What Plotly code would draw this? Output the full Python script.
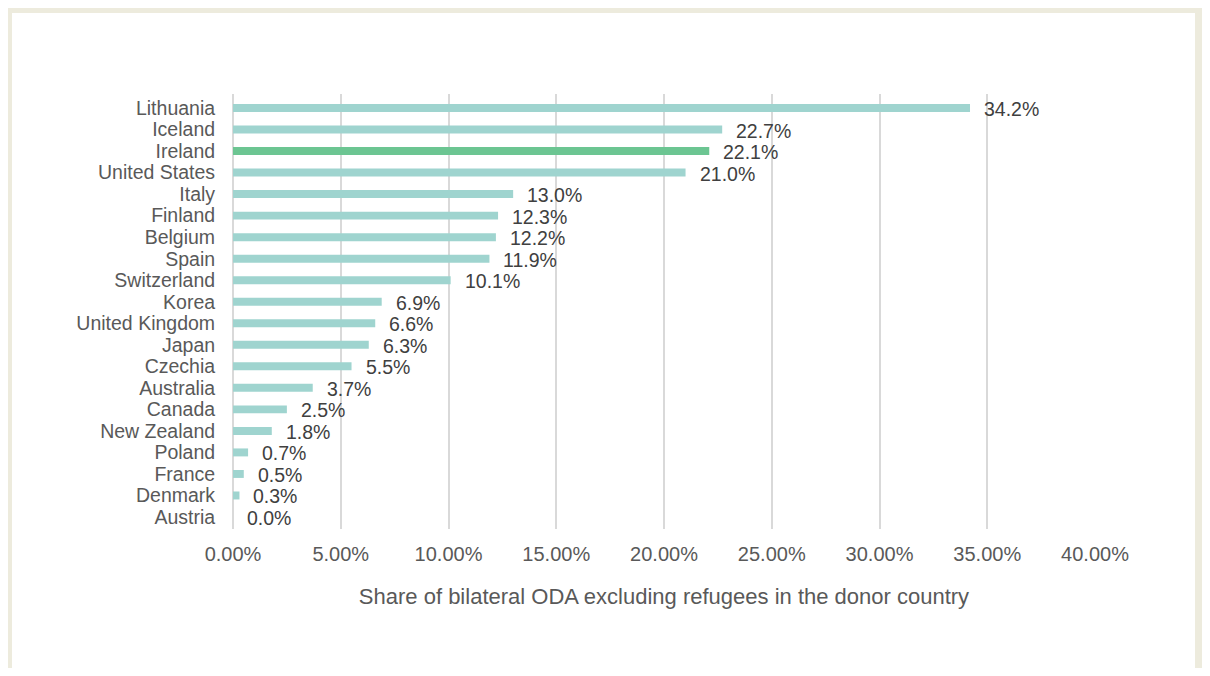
import plotly.graph_objects as go

countries = ["Lithuania", "Iceland", "Ireland", "United States", "Italy", "Finland",
             "Belgium", "Spain", "Switzerland", "Korea", "United Kingdom", "Japan",
             "Czechia", "Australia", "Canada", "New Zealand", "Poland", "France",
             "Denmark", "Austria"]
shares = [0.342, 0.227, 0.221, 0.210, 0.130, 0.123, 0.122, 0.119, 0.101, 0.069,
          0.066, 0.063, 0.055, 0.037, 0.025, 0.018, 0.007, 0.005, 0.003, 0.000]
highlight = "Ireland"
x_ticks = [0, 0.05, 0.10, 0.15, 0.20, 0.25, 0.30, 0.35, 0.40]
x_title = "Share of bilateral ODA excluding refugees in the donor country"

# figure sits at (8, 8) in the page because of the default body margin
W, H = 1202, 660
ML, MR, MT, MB = 225, 115, 86, 139
PW, PH = W - ML - MR, H - MT - MB

FONT = "Liberation Sans, Arial, sans-serif"
base_col = "#9FD4CF"
hi_col = "#6CC592"
colors = [hi_col if c == highlight else base_col for c in countries]

fig = go.Figure()
fig.add_trace(go.Bar(
    x=shares, y=countries, orientation="h",
    marker=dict(color=colors, line=dict(width=0)),
    width=0.37, hoverinfo="skip",
))

for c, v in zip(countries, shares):
    fig.add_annotation(x=v, y=c, text=f"{v*100:.1f}%", showarrow=False,
                       xanchor="left", yanchor="middle", xshift=12, yshift=-1,
                       font=dict(family=FONT, size=19.5, color="#404040"))

def px2x(px):
    return (px - ML) / PW

def py2y(py):
    return (H - MB - py) / PH

# beige frame
fig.add_shape(type="rect", xref="paper", yref="paper",
              x0=px2x(0), x1=px2x(1191), y0=py2y(720), y1=py2y(1),
              line=dict(color="#EDEBDD", width=8), fillcolor="rgba(0,0,0,0)", layer="below")

fig.update_layout(
    width=W, height=H,
    margin=dict(l=ML, r=MR, t=MT, b=MB, pad=0),
    paper_bgcolor="white", plot_bgcolor="white",
    showlegend=False,
    font=dict(family=FONT, color="#595959"),
    xaxis=dict(range=[0, 0.4], tickvals=x_ticks, tickformat=".2%",
               showgrid=True, gridcolor="#D9D9D9", gridwidth=2,
               zeroline=True, zerolinecolor="#D9D9D9", zerolinewidth=2,
               showline=False, ticks="outside", ticklen=7, tickcolor="rgba(0,0,0,0)",
               tickfont=dict(size=20, color="#595959"),
               title=dict(text=x_title, font=dict(size=22, color="#595959"), standoff=24),
               fixedrange=True),
    yaxis=dict(autorange="reversed", showgrid=False, zeroline=False, showline=False,
               tickmode="array", tickvals=countries, ticktext=countries,
               ticks="outside", ticklen=13, tickcolor="rgba(0,0,0,0)",
               tickfont=dict(size=19.5, color="#595959"), fixedrange=True),
)

fig.write_html("out.html")
